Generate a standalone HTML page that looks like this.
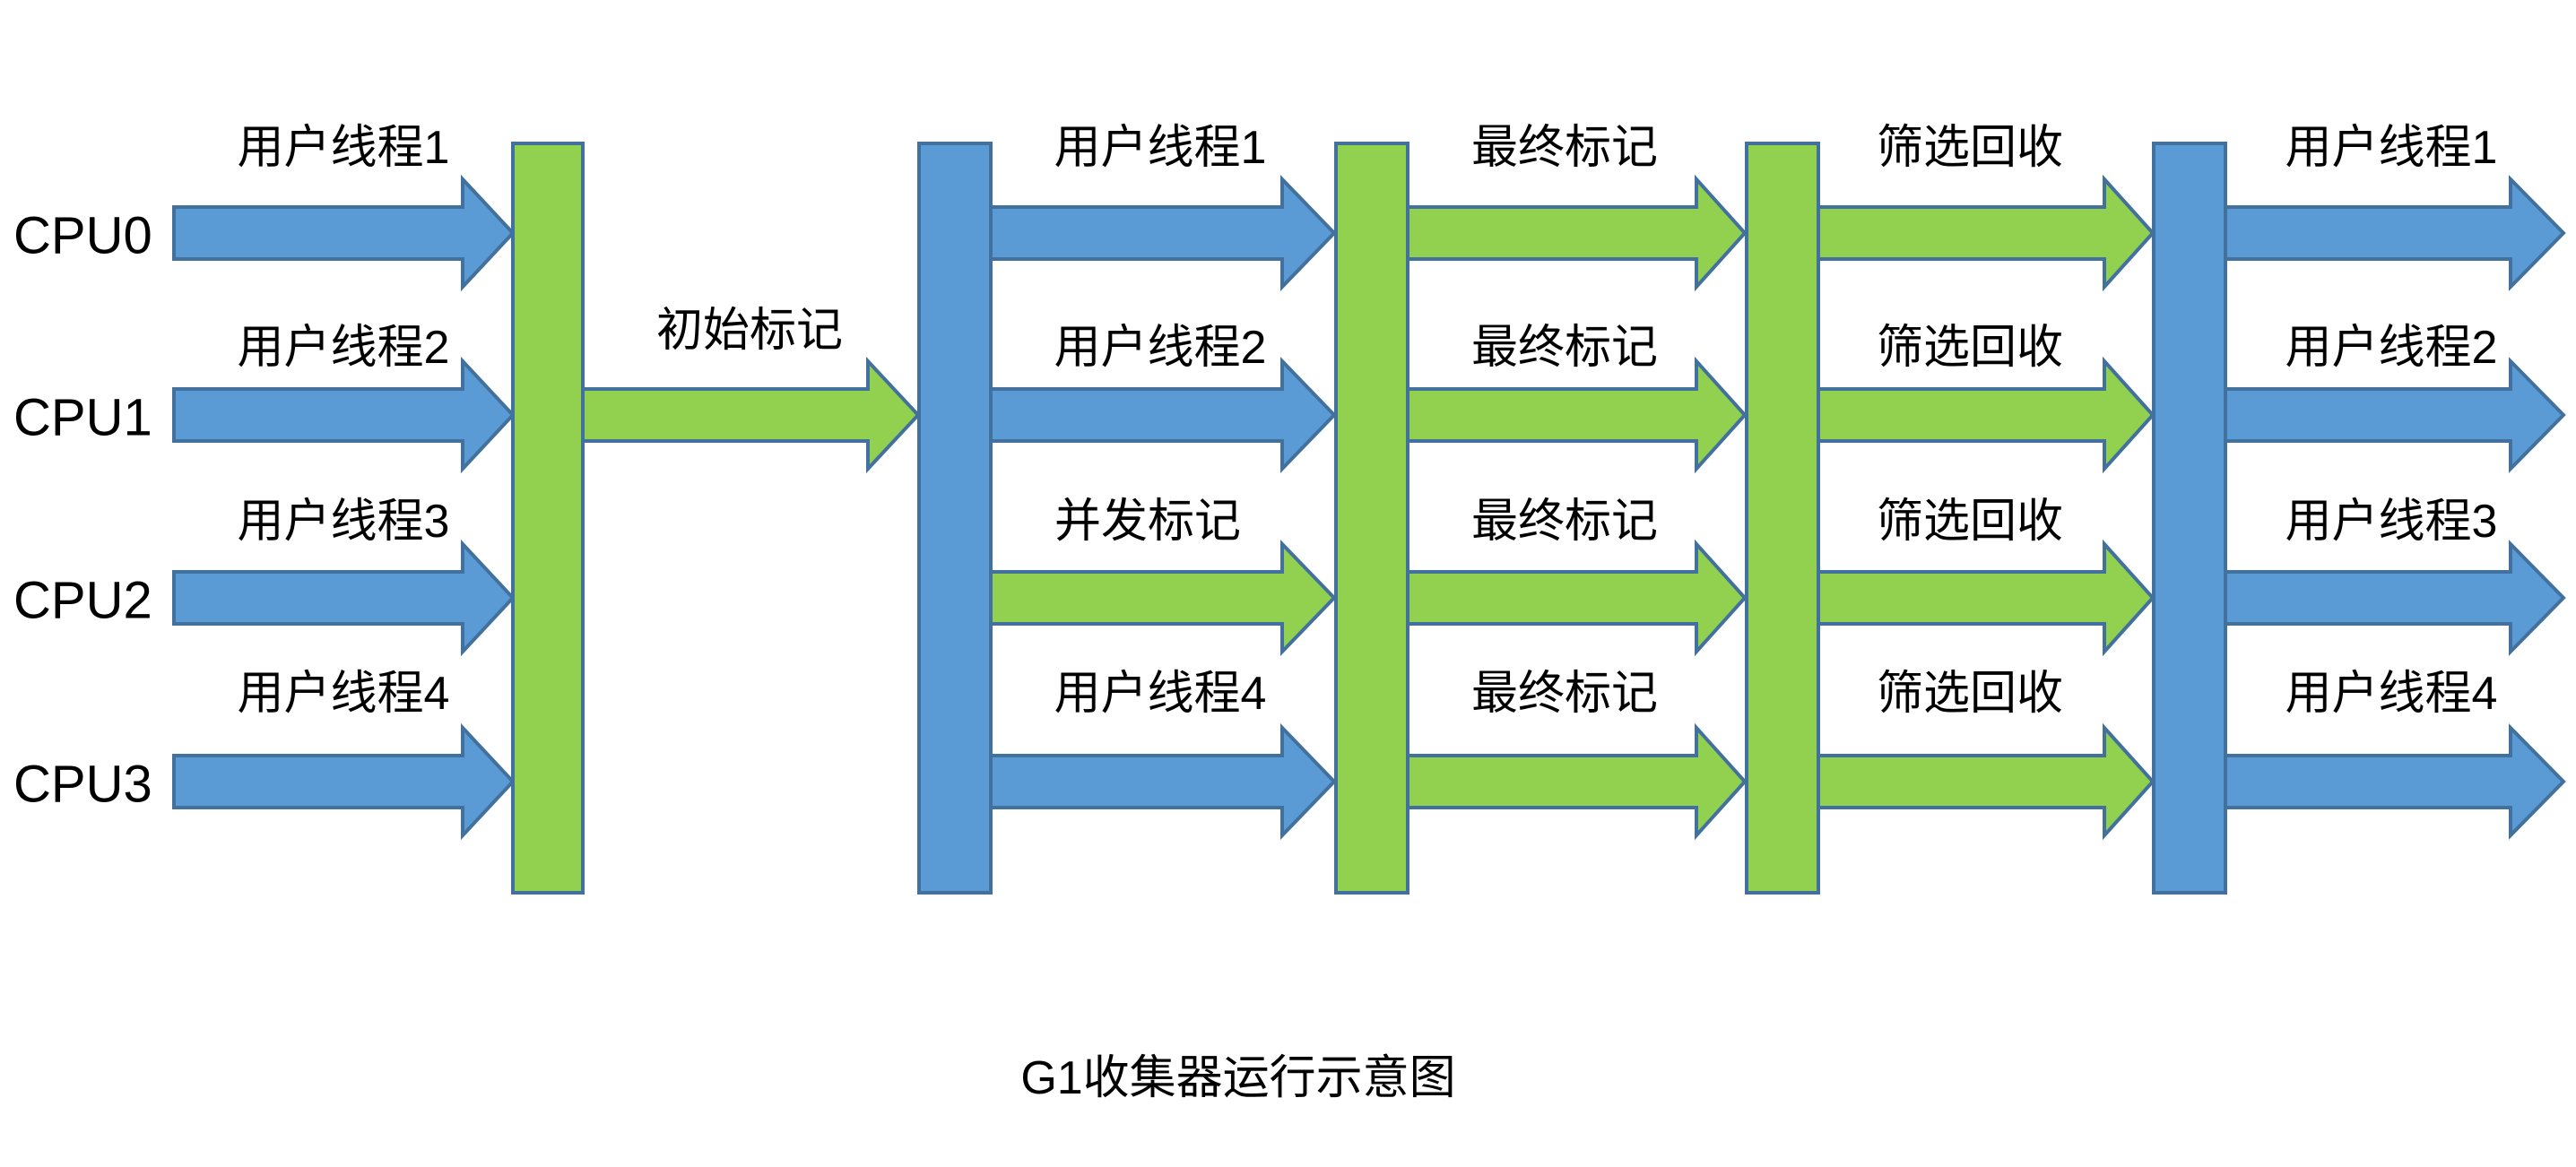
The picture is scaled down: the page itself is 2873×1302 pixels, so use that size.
<!DOCTYPE html>
<html><head><meta charset="utf-8"><style>
html,body{margin:0;padding:0;background:#fff;}
svg text{font-family:"Liberation Sans","Noto Sans CJK SC",sans-serif;font-size:52px;fill:#000;}
svg text.cpu{font-size:58px;}
</style></head><body>
<svg width="2873" height="1297" viewBox="0 0 2873 1297" xmlns="http://www.w3.org/2000/svg">
<defs>
<style>.b{fill:#5B9BD5;stroke:#41719C;stroke-width:4}.g{fill:#92D050;stroke:#41719C;stroke-width:4}</style>
</defs>
<g class="b">
<polygon points="194,231 516,231 516,200 572,260 516,320 516,289 194,289"/>
<polygon points="194,434 516,434 516,403 572,463 516,523 516,492 194,492"/>
<polygon points="194,638 516,638 516,607 572,667 516,727 516,696 194,696"/>
<polygon points="194,843 516,843 516,812 572,872 516,932 516,901 194,901"/>
</g>
<polygon class="g" points="650,434 968,434 968,403 1024,463 968,523 968,492 650,492"/>
<polygon class="b" points="1105,231 1430,231 1430,200 1488,260 1430,320 1430,289 1105,289"/>
<polygon class="b" points="1105,434 1430,434 1430,403 1488,463 1430,523 1430,492 1105,492"/>
<polygon class="g" points="1105,638 1430,638 1430,607 1488,667 1430,727 1430,696 1105,696"/>
<polygon class="b" points="1105,843 1430,843 1430,812 1488,872 1430,932 1430,901 1105,901"/>
<g class="g">
<polygon points="1570,231 1892,231 1892,200 1946,260 1892,320 1892,289 1570,289"/>
<polygon points="1570,434 1892,434 1892,403 1946,463 1892,523 1892,492 1570,492"/>
<polygon points="1570,638 1892,638 1892,607 1946,667 1892,727 1892,696 1570,696"/>
<polygon points="1570,843 1892,843 1892,812 1946,872 1892,932 1892,901 1570,901"/>
<polygon points="2028,231 2347,231 2347,200 2401,260 2347,320 2347,289 2028,289"/>
<polygon points="2028,434 2347,434 2347,403 2401,463 2347,523 2347,492 2028,492"/>
<polygon points="2028,638 2347,638 2347,607 2401,667 2347,727 2347,696 2028,696"/>
<polygon points="2028,843 2347,843 2347,812 2401,872 2347,932 2347,901 2028,901"/>
</g>
<g class="b">
<polygon points="2482,231 2800,231 2800,200 2859,260 2800,320 2800,289 2482,289"/>
<polygon points="2482,434 2800,434 2800,403 2859,463 2800,523 2800,492 2482,492"/>
<polygon points="2482,638 2800,638 2800,607 2859,667 2800,727 2800,696 2482,696"/>
<polygon points="2482,843 2800,843 2800,812 2859,872 2800,932 2800,901 2482,901"/>
</g>
<rect class="g" x="572" y="160" width="78" height="836"/>
<rect class="b" x="1025" y="160" width="80" height="836"/>
<rect class="g" x="1490" y="160" width="80" height="836"/>
<rect class="g" x="1948" y="160" width="80" height="836"/>
<rect class="b" x="2402" y="160" width="80" height="836"/>
<g dominant-baseline="central">
<text class="cpu" x="15" y="263">CPU0</text>
<text class="cpu" x="15" y="466">CPU1</text>
<text class="cpu" x="15" y="670">CPU2</text>
<text class="cpu" x="15" y="875">CPU3</text>
<g text-anchor="middle">
<text x="383" y="165">用户线程1</text>
<text x="383" y="388">用户线程2</text>
<text x="383" y="582">用户线程3</text>
<text x="383" y="774">用户线程4</text>
<text x="836" y="369">初始标记</text>
<text x="1294" y="165">用户线程1</text>
<text x="1294" y="388">用户线程2</text>
<text x="1280" y="582">并发标记</text>
<text x="1294" y="774">用户线程4</text>
<text x="1745" y="165">最终标记</text>
<text x="1745" y="388">最终标记</text>
<text x="1745" y="582">最终标记</text>
<text x="1745" y="774">最终标记</text>
<text x="2197" y="165">筛选回收</text>
<text x="2197" y="388">筛选回收</text>
<text x="2197" y="582">筛选回收</text>
<text x="2197" y="774">筛选回收</text>
<text x="2667" y="165">用户线程1</text>
<text x="2667" y="388">用户线程2</text>
<text x="2667" y="582">用户线程3</text>
<text x="2667" y="774">用户线程4</text>
<text x="1381" y="1203">G1收集器运行示意图</text>
</g>
</g>
</svg>
</body></html>
